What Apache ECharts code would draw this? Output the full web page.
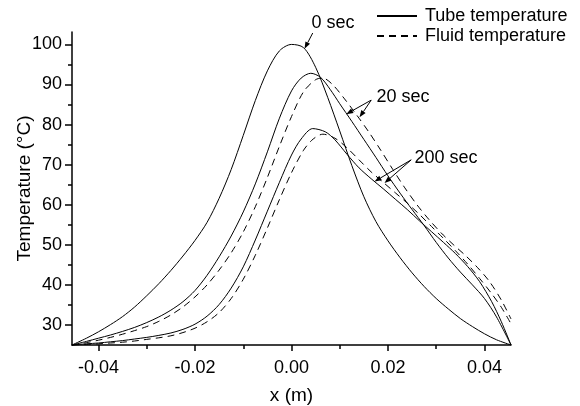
<!DOCTYPE html>
<html>
<head>
<meta charset="utf-8">
<script src="https://cdn.jsdelivr.net/npm/echarts@6/dist/echarts.min.js"></script>
<style>html,body{margin:0;padding:0;background:#fff}#c{width:580px;height:406px}</style>
</head>
<body>
<div id="c"></div>
<script>
// ---- data (x in m, temperature in °C) ----
const tube0 = [[-0.0455,25],[-0.0425,26.7],[-0.040,28.3],[-0.0375,30.1],[-0.035,32.1],[-0.0325,34.5],[-0.030,37.3],[-0.0275,40.3],[-0.025,43.6],[-0.0225,47.2],[-0.020,51.1],[-0.0175,55.6],[-0.015,61.6],[-0.0125,68.8],[-0.010,77.3],[-0.0075,86.0],[-0.005,93.4],[-0.0025,98.4],[0,100],[0.0025,99.2],[0.005,94.3],[0.0075,86.8],[0.010,78.4],[0.0125,69.8],[0.015,62.0],[0.0175,55.8],[0.020,51.0],[0.0225,46.8],[0.025,43.0],[0.0275,39.6],[0.030,36.6],[0.0325,34.0],[0.035,31.6],[0.0375,29.6],[0.040,27.8],[0.0425,26.3],[0.0455,25]];
const tube20 = [[-0.0455,25],[-0.0425,25.9],[-0.040,26.7],[-0.0375,27.5],[-0.035,28.4],[-0.0325,29.4],[-0.030,30.6],[-0.0275,32.0],[-0.025,33.7],[-0.0225,35.8],[-0.020,38.6],[-0.0175,42.4],[-0.015,47.0],[-0.0125,52.2],[-0.010,58.2],[-0.0075,65.2],[-0.005,73.2],[-0.0025,81.6],[0,88.4],[0.002,91.6],[0.004,92.8],[0.006,91.8],[0.008,88.8],[0.010,85.2],[0.0125,80.8],[0.015,76.3],[0.0175,71.8],[0.020,67.2],[0.0225,62.9],[0.025,58.8],[0.0275,54.8],[0.030,50.6],[0.0325,46.7],[0.035,43.2],[0.0375,40.0],[0.040,36.6],[0.0425,32.0],[0.0455,25]];
const fluid20 = [[-0.0455,25],[-0.0425,25.6],[-0.040,26.2],[-0.0375,26.9],[-0.035,27.7],[-0.0325,28.6],[-0.030,29.6],[-0.0275,30.9],[-0.025,32.5],[-0.0225,34.5],[-0.020,37.0],[-0.0175,40.0],[-0.015,43.7],[-0.0125,48.0],[-0.010,53.2],[-0.0075,59.5],[-0.005,66.8],[-0.0025,74.6],[0,82.0],[0.0025,88.2],[0.005,91.2],[0.0065,91.6],[0.0085,90.0],[0.011,86.4],[0.0135,82.4],[0.016,78.2],[0.0185,73.6],[0.021,68.8],[0.0235,64.2],[0.026,60.0],[0.0285,56.3],[0.031,53.0],[0.0335,50.1],[0.036,47.4],[0.0385,44.4],[0.041,40.9],[0.0435,36.2],[0.0455,31.5]];
const tube200 = [[-0.0455,25],[-0.0425,25.3],[-0.040,25.5],[-0.0375,25.8],[-0.035,26.1],[-0.0325,26.5],[-0.030,26.9],[-0.0275,27.4],[-0.025,28.0],[-0.0225,28.9],[-0.020,30.2],[-0.0175,32.2],[-0.015,35.1],[-0.0125,39.2],[-0.010,44.5],[-0.0075,51.2],[-0.005,58.4],[-0.0025,65.6],[0,72.4],[0.002,76.4],[0.0044,79.0],[0.007,78.2],[0.009,76.2],[0.0115,72.6],[0.014,69.2],[0.0165,66.5],[0.019,64.0],[0.0215,61.4],[0.024,58.8],[0.0265,56.0],[0.029,53.3],[0.0315,50.6],[0.034,47.8],[0.0365,44.6],[0.039,40.8],[0.0415,35.8],[0.0435,30.8],[0.0455,25]];
const fluid200 = [[-0.0455,25],[-0.0425,25.15],[-0.040,25.3],[-0.0375,25.5],[-0.035,25.7],[-0.0325,26.0],[-0.030,26.4],[-0.0275,26.8],[-0.025,27.3],[-0.0225,28.1],[-0.020,29.2],[-0.0175,30.8],[-0.015,33.1],[-0.0125,36.6],[-0.010,41.4],[-0.0075,47.4],[-0.005,54.2],[-0.0025,61.3],[0,68.0],[0.0025,73.6],[0.0045,76.4],[0.0065,77.6],[0.009,76.6],[0.0115,74.2],[0.014,71.2],[0.0165,68.2],[0.019,65.6],[0.0215,63.0],[0.024,60.4],[0.0265,57.6],[0.029,54.6],[0.0315,51.6],[0.034,48.5],[0.0365,45.2],[0.039,41.6],[0.0415,37.8],[0.0435,34.4],[0.0455,30.3]];

const xMajorTicks = [-0.04,-0.02,0,0.02,0.04];
const xMinorTicks = [-0.03,-0.01,0.01,0.03];
const yMajorTicks = [30,40,50,60,70,80,90,100];
const yMinorTicks = [35,45,55,65,75,85,95];
const seriesNames = ['Tube temperature','Fluid temperature'];

// annotations (data units)
const annotations = [
  {text:'0 sec', at:[0.00415,105.3], from:[0.0044,102.85], tips:[[0.0027,98.9]]},
  {text:'20 sec', at:[0.0176,86.9], from:[0.01652,86.1], tips:[[0.01134,82.6],[0.0141,81.8]]},
  {text:'200 sec', at:[0.0255,71.7], from:[0.02481,71.2], tips:[[0.01721,65.8],[0.01928,65.4]]}
];

const FONT = '"Liberation Sans", Arial, sans-serif';
const chart = echarts.init(document.getElementById('c'), null, {renderer:'canvas'});

function lineSeries(name, data, dashed){
  return {type:'line', name:name, data:data, smooth:0.3, symbol:'none', showSymbol:false, clip:false,
    lineStyle:{color:'#000', width:1, type: dashed ? [7,5] : 'solid'}, itemStyle:{color:'#000'},
    animation:false, z:3};
}
const tickText = {color:'#000', fontSize:18, fontFamily:FONT};
const nameText = {color:'#000', fontSize:19, fontFamily:FONT};
const option = {
  animation:false,
  grid:{left:72, right:69, top:32, bottom:61, outerBoundsMode:'none', containLabel:false},
  legend:{data:seriesNames, orient:'vertical', left:376, top:7, padding:0, itemWidth:40, itemHeight:14, itemGap:2,
    itemStyle:{opacity:0},
    textStyle:{color:'#000', fontSize:18, fontFamily:FONT, padding:[0,0,0,3], lineHeight:18}, selectedMode:false},
  xAxis:[
    {type:'value', min:-0.0455, max:0.0455, name:'x (m)', nameLocation:'middle', nameGap:41, nameMoveOverlap:false,
     nameTextStyle:nameText,
     axisLine:{show:true, onZero:false, lineStyle:{color:'#000', width:1.5}},
     axisTick:{show:true, inside:false, length:6, customValues:xMajorTicks, lineStyle:{color:'#000', width:1.5}},
     axisLabel:{show:true, margin:14, customValues:xMajorTicks, formatter:v=>v.toFixed(2), ...tickText},
     splitLine:{show:false}},
    {type:'value', min:-0.0455, max:0.0455, position:'bottom', gridIndex:0,
     axisLine:{show:false, onZero:false}, axisTick:{show:true, length:4, customValues:xMinorTicks, lineStyle:{color:'#000', width:1.5}},
     axisLabel:{show:false}, splitLine:{show:false}}
  ],
  yAxis:[
    {type:'value', min:25, max:103.1, name:'Temperature (\u00B0C)', nameLocation:'middle', nameGap:38, nameMoveOverlap:false,
     nameTextStyle:nameText,
     axisLine:{show:true, onZero:false, lineStyle:{color:'#000', width:1.5}},
     axisTick:{show:true, length:7, customValues:yMajorTicks, lineStyle:{color:'#000', width:1.5}},
     axisLabel:{show:true, margin:10, customValues:yMajorTicks, ...tickText},
     splitLine:{show:false}},
    {type:'value', min:25, max:103.1, position:'left', gridIndex:0,
     axisLine:{show:false, onZero:false}, axisTick:{show:true, length:4, customValues:yMinorTicks, lineStyle:{color:'#000', width:1.5}},
     axisLabel:{show:false}, splitLine:{show:false}}
  ],
  series:[
    lineSeries(seriesNames[0], tube0, false),
    lineSeries(seriesNames[0], tube20, false),
    lineSeries(seriesNames[1], fluid20, true),
    lineSeries(seriesNames[0], tube200, false),
    lineSeries(seriesNames[1], fluid200, true)
  ]
};
chart.setOption(option);

// annotation graphics positioned through the axis scales
const g = [];
annotations.forEach(a=>{
  const p = chart.convertToPixel({gridIndex:0}, a.at);
  g.push({type:'text', x:p[0], y:p[1], style:{text:a.text, fill:'#000', font:'18px '+FONT, textAlign:'left', textVerticalAlign:'middle'}, z:10});
  const s = chart.convertToPixel({gridIndex:0}, a.from);
  a.tips.forEach(t=>{
    const e = chart.convertToPixel({gridIndex:0}, t);
    const dx = e[0]-s[0], dy = e[1]-s[1], L = Math.hypot(dx,dy), ux = dx/L, uy = dy/L;
    const hl = 7, hw = 2.6;
    const bx = e[0]-ux*hl, by = e[1]-uy*hl;
    g.push({type:'line', shape:{x1:s[0], y1:s[1], x2:bx, y2:by}, style:{stroke:'#000', lineWidth:1}, z:10});
    g.push({type:'polygon', shape:{points:[[e[0],e[1]],[bx-uy*hw,by+ux*hw],[bx+uy*hw,by-ux*hw]]}, style:{fill:'#000'}, z:10});
  });
});
chart.setOption({graphic:g});
</script>
</body>
</html>
